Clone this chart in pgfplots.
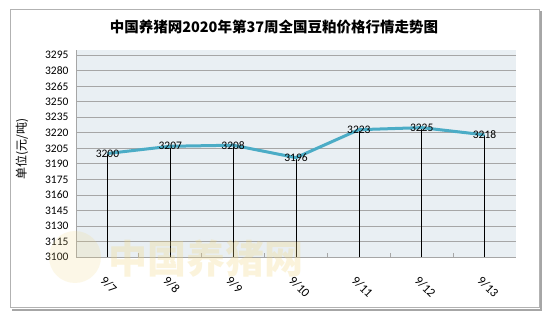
\documentclass[border=0pt]{standalone}
\usepackage{fontspec}
\setmainfont{Carlito}
\newfontfamily\cjk{Noto Sans CJK SC}
\usepackage{pgfplots}
\pgfplotsset{compat=1.18}
\definecolor{linec}{HTML}{4BACC6}
\definecolor{plotbg}{HTML}{E9EFF3}
\definecolor{gridc}{HTML}{A6A6A6}
\definecolor{wm}{HTML}{F2D77E}
\begin{document}
\begin{tikzpicture}
\useasboundingbox (0pt,0pt) rectangle (550pt,319pt);
\fill[white] (0pt,0pt) rectangle (550pt,319pt);
% frame with shadow
\draw[line width=2pt, color=gray!70] (12pt,9pt) -- (541pt,9pt) -- (541pt,308pt);
\draw[line width=1pt, color=gray!60] (10pt,11pt) rectangle (539pt,309pt);
\node[font=\cjk\bfseries\fontsize{14.5}{16}\selectfont] at (274pt,292pt) {中国养猪网2020年第37周全国豆粕价格行情走势图};
\node[font=\cjk\fontsize{12}{13}\selectfont, rotate=90] at (22pt,170pt) {单位(元/吨)};
\begin{axis}[
  at={(76pt,62pt)}, anchor=south west,
  scale only axis, width=440pt, height=207pt,
  xmin=-0.5, xmax=6.5, ymin=3100, ymax=3300,
  axis background/.style={fill=plotbg},
  axis x line*=bottom, axis y line*=left,
  axis line style={gridc, line width=0.8pt, -},
  ytick={3100,3115,3130,3145,3160,3175,3190,3205,3220,3235,3250,3265,3280,3295},
  xtick={0,1,2,3,4,5,6},
  xticklabels={9/7,9/8,9/9,9/10,9/11,9/12,9/13},
  major tick length=0pt,
  tick align=inside,
  ymajorgrids, grid style={gridc, line width=0.8pt},
  extra x ticks={0.5,1.5,2.5,3.5,4.5,5.5},
  extra x tick labels={},
  extra x tick style={grid=none, major tick length=4pt, tick style={gridc, line width=0.8pt}},
  /pgf/number format/assume math mode=true,
  /pgf/number format/1000 sep={},
  yticklabel style={font=\fontsize{11.5}{12}\selectfont, xshift=-4pt},
  xticklabel style={font=\fontsize{12.5}{13}\selectfont, xshift=-7.5pt, yshift=-19pt, rotate=-45, anchor=west},
  clip=true,
]
\addplot[ycomb, black, line width=0.7pt, no marks] coordinates {
(0,3200) (1,3207) (2,3208) (3,3196) (4,3223) (5,3225) (6,3218)};
\addplot[linec, line width=3pt, no marks,
  nodes near coords, point meta=explicit symbolic,
  every node near coord/.style={anchor=center, font=\fontsize{11.5}{12}\selectfont, black, inner sep=0pt}]
  coordinates {
(0,3200) [3200] (1,3207) [3207] (2,3208) [3208] (3,3196) [3196] (4,3223) [3223] (5,3225) [3225] (6,3218) [3218]};
\end{axis}
% watermark
\fill[wm, opacity=0.18] (75pt,62pt) circle (26pt);
\node[font=\cjk\bfseries\fontsize{39}{40}\selectfont, text=wm, opacity=0.28] at (206pt,60pt) {中国养猪网};
\end{tikzpicture}
\end{document}
